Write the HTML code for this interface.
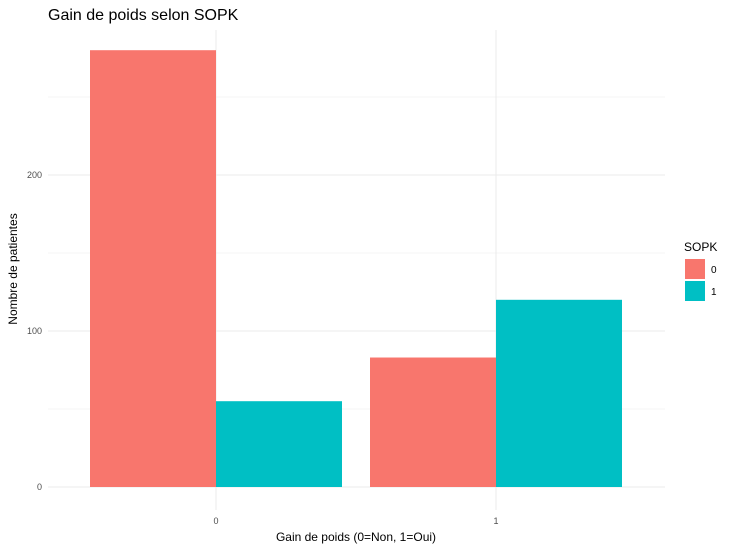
<!DOCTYPE html>
<html><head><meta charset="utf-8"><style>
body{margin:0;background:#fff;font-family:"Liberation Sans",Arial,sans-serif}
</style></head><body>
<svg id="chart" width="735" height="550" xmlns="http://www.w3.org/2000/svg" font-family="Liberation Sans, Arial, sans-serif">
<text x="48" y="20" font-size="16" fill="#000">Gain de poids selon SOPK</text>
<g id="grid"></g><g id="bars"></g><g id="axes"></g>
<text x="356" y="541" font-size="12" text-anchor="middle" fill="#000">Gain de poids (0=Non, 1=Oui)</text>
<text transform="translate(17,269) rotate(-90)" font-size="12" text-anchor="middle" fill="#000">Nombre de patientes</text>
<g>
<text x="684" y="251" font-size="12" fill="#000">SOPK</text>
<rect x="685" y="259" width="20" height="20" fill="#F8766D"/>
<text x="711" y="273" font-size="10" fill="#000">0</text>
<rect x="685" y="281" width="20" height="20" fill="#00BFC4"/>
<text x="711" y="295" font-size="10" fill="#000">1</text>
</g>
</svg>
<script>
const categories=["0","1"];
const groups=["0","1"];
const sopk0=[280,83];
const sopk1=[55,120];
const yTicks=[0,100,200];
const colors=["#F8766D","#00BFC4"];
const NS="http://www.w3.org/2000/svg";
const y=v=>487-v*1.56;
const xc=i=>216+i*280;
const bw=126;
function mk(t,a,p){const e=document.createElementNS(NS,t);for(const k in a)e.setAttribute(k,a[k]);p.appendChild(e);return e;}
const grid=document.getElementById('grid'),bars=document.getElementById('bars'),axes=document.getElementById('axes');
for(let v=0;v<=300;v+=50){if(y(v)<30)continue;const l=mk('line',{x1:48,x2:665,y1:y(v),y2:y(v),stroke:'#ebebeb','stroke-width':v%100===0?1:0.6},grid);

}
categories.forEach((c,i)=>{const l=mk('line',{x1:xc(i),x2:xc(i),y1:30,y2:510,stroke:'#ebebeb'},grid);


const t=mk('text',{x:xc(i),y:524,'font-size':9,'text-anchor':'middle',fill:'#4d4d4d'},axes);t.textContent=c;


[sopk0,sopk1].forEach((s,g)=>{const x=g===0?xc(i)-bw:xc(i);
const r=mk('rect',{x:x,y:y(s[i]),width:bw,height:y(0)-y(s[i]),fill:colors[g]},bars);

});});
yTicks.forEach(v=>{const t=mk('text',{x:42,y:y(v)+3,'font-size':9,'text-anchor':'end',fill:'#4d4d4d'},axes);t.textContent=v;

});
</script>
</body></html>
